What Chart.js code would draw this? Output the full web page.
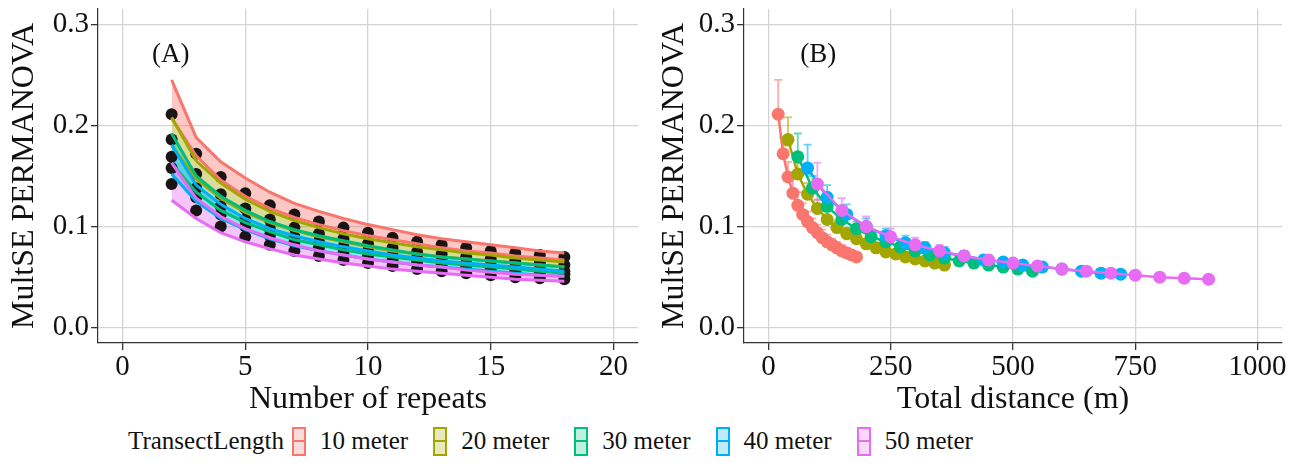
<!DOCTYPE html>
<html>
<head>
<meta charset="utf-8">
<script src="https://cdn.jsdelivr.net/npm/chart.js@4.4.1/dist/chart.umd.min.js"></script>
<style>
  html, body { margin: 0; padding: 0; background: #fff; }
  body { width: 1305px; height: 469px; position: relative; overflow: hidden; font-family: "Liberation Serif", "DejaVu Serif", serif; }
  #left { position: absolute; left: 0; top: 0; }
  #right { position: absolute; left: 650px; top: 0; }
  #legend { position: absolute; left: 128px; top: 426px; height: 30px; display: flex; align-items: center; font-size: 25px; line-height: 30px; color: #111; white-space: nowrap; }
  #legend .title { margin-right: 8px; }
  #legend .key { position: relative; width: 10px; height: 25px; border: 2px solid; margin-right: 14px; }
  #legend .key i { position: absolute; left: 0; right: 0; top: 11px; height: 2.5px; }
  #legend .lab { margin-right: 25px; }
</style>
</head>
<body>
<canvas id="left" width="650" height="420"></canvas>
<canvas id="right" width="655" height="420"></canvas>
<div id="legend"></div>
<script>
// number of repeats along the x axis of panel A
const repeats = [2, 3, 4, 5, 6, 7, 8, 9, 10, 11, 12, 13, 14, 15, 16, 17, 18];
const transectLengths = [10, 20, 30, 40, 50];
const seriesLabels = ["10 meter", "20 meter", "30 meter", "40 meter", "50 meter"];

// MultSE means (black points) and the upper / lower bounds of the ribbons
const mean10 = [0.211, 0.172, 0.149, 0.133, 0.121, 0.112, 0.105, 0.099, 0.094, 0.089, 0.085, 0.082, 0.079, 0.076, 0.074, 0.072, 0.070];
const upper10 = [0.245, 0.188, 0.164, 0.148, 0.134, 0.123, 0.115, 0.108, 0.102, 0.097, 0.092, 0.088, 0.085, 0.082, 0.079, 0.076, 0.074];
const lower10 = [0.207, 0.170, 0.146, 0.130, 0.118, 0.109, 0.102, 0.096, 0.091, 0.087, 0.083, 0.079, 0.076, 0.074, 0.071, 0.069, 0.067];

const mean20 = [0.186, 0.152, 0.132, 0.118, 0.107, 0.099, 0.093, 0.088, 0.083, 0.079, 0.075, 0.073, 0.070, 0.068, 0.066, 0.064, 0.062];
const upper20 = [0.208, 0.165, 0.143, 0.127, 0.115, 0.106, 0.099, 0.093, 0.088, 0.084, 0.080, 0.077, 0.074, 0.072, 0.069, 0.067, 0.065];
const lower20 = [0.180, 0.147, 0.128, 0.114, 0.104, 0.096, 0.090, 0.085, 0.080, 0.076, 0.073, 0.070, 0.068, 0.066, 0.064, 0.062, 0.060];

const mean30 = [0.169, 0.138, 0.120, 0.107, 0.098, 0.090, 0.085, 0.080, 0.076, 0.072, 0.069, 0.066, 0.064, 0.062, 0.060, 0.058, 0.056];
const upper30 = [0.192, 0.150, 0.130, 0.116, 0.105, 0.097, 0.091, 0.086, 0.081, 0.077, 0.073, 0.070, 0.068, 0.066, 0.064, 0.062, 0.060];
const lower30 = [0.163, 0.134, 0.116, 0.104, 0.095, 0.087, 0.082, 0.077, 0.073, 0.070, 0.067, 0.064, 0.062, 0.060, 0.058, 0.056, 0.054];

const mean40 = [0.158, 0.129, 0.112, 0.100, 0.091, 0.084, 0.079, 0.074, 0.071, 0.067, 0.065, 0.062, 0.060, 0.058, 0.056, 0.054, 0.053];
const upper40 = [0.181, 0.141, 0.122, 0.108, 0.098, 0.091, 0.085, 0.080, 0.076, 0.072, 0.069, 0.066, 0.064, 0.062, 0.060, 0.058, 0.056];
const lower40 = [0.152, 0.125, 0.108, 0.097, 0.088, 0.081, 0.076, 0.072, 0.068, 0.065, 0.062, 0.060, 0.058, 0.056, 0.054, 0.052, 0.051];

const mean50 = [0.142, 0.116, 0.100, 0.090, 0.082, 0.076, 0.071, 0.067, 0.064, 0.061, 0.058, 0.056, 0.054, 0.052, 0.050, 0.049, 0.048];
const upper50 = [0.163, 0.128, 0.110, 0.098, 0.089, 0.082, 0.076, 0.072, 0.068, 0.065, 0.062, 0.060, 0.057, 0.055, 0.053, 0.052, 0.051];
const lower50 = [0.126, 0.108, 0.094, 0.085, 0.078, 0.072, 0.068, 0.064, 0.061, 0.058, 0.056, 0.054, 0.052, 0.050, 0.048, 0.047, 0.046];

// tick labels
const repeatTicks = [0, 5, 10, 15, 20];
const distanceTicks = [0, 250, 500, 750, 1000];
const multseTicks = [0.0, 0.1, 0.2, 0.3];

const colors = ["#F8766D", "#A3A500", "#00BF7D", "#00B0F6", "#E76BF3"];
const means = [mean10, mean20, mean30, mean40, mean50];
const uppers = [upper10, upper20, upper30, upper40, upper50];
const lowers = [lower10, lower20, lower30, lower40, lower50];

const FONT = "'Liberation Serif', 'DejaVu Serif', serif";
const INK = "#111111";

function rgba(hex, a) {
  const n = parseInt(hex.slice(1), 16);
  return `rgba(${(n >> 16) & 255}, ${(n >> 8) & 255}, ${n & 255}, ${a})`;
}

function pts(xs, ys) {
  return xs.map((x, i) => ({ x: x, y: ys[i] }));
}

function makeScales(xMin, xMax, xTicks, xTitle, yWidth) {
  const grid = { color: "#d4d4d4", lineWidth: 1.3, tickColor: "#333333", tickLength: 7 };
  const border = { display: true, color: "#333333", width: 1.2 };
  return {
    x: {
      type: "linear",
      min: xMin,
      max: xMax,
      afterBuildTicks: (ax) => { ax.ticks = xTicks.map((v) => ({ value: v })); },
      afterFit: (ax) => { ax.height = 77; ax.paddingLeft = 0; ax.paddingRight = 0; },
      grid: grid,
      border: border,
      ticks: { font: { family: FONT, size: 29 }, color: INK, padding: 0, maxRotation: 0, autoSkip: false, callback: (v) => String(v) },
      title: { display: true, text: xTitle, font: { family: FONT, size: 32 }, color: INK, padding: { top: 0, bottom: 1 } },
    },
    y: {
      type: "linear",
      min: -0.015,
      max: 0.315,
      afterBuildTicks: (ax) => { ax.ticks = multseTicks.map((v) => ({ value: v })); },
      afterFit: (ax) => { ax.width = yWidth; ax.paddingTop = 0; ax.paddingBottom = 0; },
      grid: grid,
      border: border,
      ticks: { font: { family: FONT, size: 29 }, color: INK, padding: 2, callback: (v) => v.toFixed(1) },
      title: { display: true, text: "MultSE PERMANOVA", font: { family: FONT, size: 32 }, color: INK, padding: { top: 5, bottom: 0 } },
    },
  };
}

// panel letter, placed in data units
function panelLabel(text, x, y) {
  return {
    id: "panelLabel",
    afterDatasetsDraw(chart) {
      const c = chart.ctx;
      c.save();
      c.font = `27px ${FONT}`;
      c.fillStyle = INK;
      c.textAlign = "center";
      c.textBaseline = "middle";
      c.fillText(text, chart.scales.x.getPixelForValue(x), chart.scales.y.getPixelForValue(y));
      c.restore();
    },
  };
}

// vertical error bars behind the points of panel B
const errorBars = {
  id: "errorBars",
  beforeDatasetsDraw(chart) {
    const c = chart.ctx;
    const xs = chart.scales.x;
    const ys = chart.scales.y;
    c.save();
    c.beginPath();
    c.rect(chart.chartArea.left, chart.chartArea.top, chart.chartArea.width, chart.chartArea.height);
    c.clip();
    chart.data.datasets.forEach((ds) => {
      c.strokeStyle = rgba(ds.borderColor, 0.6);
      c.lineWidth = 1.8;
      ds.data.forEach((p, i) => {
        const px = xs.getPixelForValue(p.x);
        const hi = ys.getPixelForValue(ds.errHigh[i]);
        const lo = ys.getPixelForValue(ds.errLow[i]);
        c.beginPath();
        c.moveTo(px, hi); c.lineTo(px, lo);
        c.moveTo(px - 4, hi); c.lineTo(px + 4, hi);
        c.moveTo(px - 4, lo); c.lineTo(px + 4, lo);
        c.stroke();
      });
    });
    c.restore();
  },
};

// panel A: ribbon fills, then black points, then ribbon edges on top
const leftSets = [];
means.forEach((m, i) => {
  leftSets.push({
    data: pts(repeats, m),
    showLine: false,
    pointRadius: 6,
    pointBorderWidth: 0,
    pointBackgroundColor: "#1a1414",
    order: 100,
  });
});
means.forEach((m, i) => {
  leftSets.push({
    data: pts(repeats, lowers[i]),
    borderColor: colors[i],
    borderWidth: 3,
    pointRadius: 0,
    fill: false,
    order: 50 - 2 * i,
  });
  leftSets.push({
    data: pts(repeats, uppers[i]),
    borderColor: colors[i],
    borderWidth: 3,
    pointRadius: 0,
    backgroundColor: rgba(colors[i], 0.4),
    fill: "-1",
    order: 49 - 2 * i,
  });
});

new Chart(document.getElementById("left").getContext("2d"), {
  type: "line",
  data: { datasets: leftSets },
  options: {
    responsive: false,
    animation: false,
    devicePixelRatio: 1,
    layout: { padding: { left: 0, top: 9, right: 12, bottom: 0 } },
    plugins: { legend: { display: false }, tooltip: { enabled: false }, filler: { drawTime: "beforeDatasetsDraw" } },
    scales: makeScales(-1, 21, repeatTicks, "Number of repeats", 98),
  },
  plugins: [panelLabel("(A)", 1.96, 0.27)],
});

// panel B: same values against total distance (repeats x transect length)
const rightSets = means.map((m, i) => ({
  data: pts(repeats.map((n) => n * transectLengths[i]), m),
  errHigh: uppers[i],
  errLow: lowers[i],
  borderColor: colors[i],
  borderWidth: 2.5,
  pointRadius: 6.5,
  pointBorderWidth: 0,
  pointBackgroundColor: colors[i],
  fill: false,
  order: 5 - i,
}));

new Chart(document.getElementById("right").getContext("2d"), {
  type: "line",
  data: { datasets: rightSets },
  options: {
    responsive: false,
    animation: false,
    devicePixelRatio: 1,
    layout: { padding: { left: 0, top: 9, right: 23, bottom: 0 } },
    plugins: { legend: { display: false }, tooltip: { enabled: false } },
    scales: makeScales(-50, 1050, distanceTicks, "Total distance (m)", 94),
  },
  plugins: [errorBars, panelLabel("(B)", 102, 0.27)],
});

// shared legend under both panels
const legend = document.getElementById("legend");
legend.innerHTML = '<span class="title">TransectLength</span>' + seriesLabels.map((s, i) =>
  `<span class="key" style="border-color:${colors[i]};background:${rgba(colors[i], 0.25)}"><i style="background:${colors[i]}"></i></span><span class="lab">${s}</span>`
).join("");
</script>
</body>
</html>
